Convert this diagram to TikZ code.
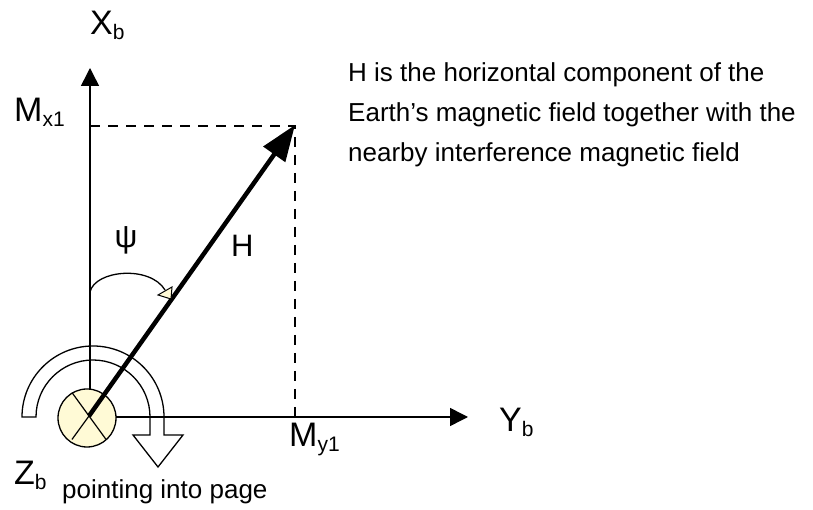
\documentclass[tikz,border=0pt]{standalone}
\usepackage{fontspec}
\setmainfont{Liberation Sans}
\usetikzlibrary{arrows.meta}
\definecolor{paleyellow}{HTML}{FFFAD6}
\newcommand\mysub[1]{\raisebox{-5pt}{\fontsize{21}{21}\selectfont #1}}
\begin{document}
\begin{tikzpicture}[x=1pt,y=1pt,
  axis/.style={line width=1.5pt,-{Triangle[length=18pt,width=18pt]}},
  guide/.style={line width=1.3pt,dash pattern=on 10pt off 8pt},
  thin/.style={line width=1.3pt},
  harrow/.style={line width=4.5pt,-{Triangle[length=36pt,width=26pt]}},
  lbl/.style={inner sep=0pt,anchor=base west,font=\fontsize{34}{34}\selectfont},
  desc/.style={inner sep=0pt,anchor=base west,font=\fontsize{26}{26}\selectfont},
]
\useasboundingbox (0,0) rectangle (813,510);
% named points
\coordinate (O) at (89,94);
\coordinate (Ox) at (90,94);
\coordinate (Xtip) at (90,442);
\coordinate (Ytip) at (468,93);
\coordinate (Oy) at (89,93);
\coordinate (Mx) at (90,384);
\coordinate (Htip) at (295,385);
\coordinate (My) at (295,93);
% big curved (rotation) arrow
\draw[thin,fill=white] (22,93) arc[start angle=180,end angle=0,radius=71]
  -- (164,75) -- (183,75) -- (158,43) -- (133,75) -- (150,75) -- (150,93)
  arc[start angle=0,end angle=180,radius=57] -- cycle;
% axes
\draw[axis] (Ox) -- (Xtip);
\draw[axis] (Oy) -- (Ytip);
% dashed projections
\draw[guide] (Mx) -- (Htip |- Mx) -- (My);
% Z axis circle
\node[circle,draw,fill=paleyellow,minimum size=58pt,inner sep=0pt,line width=1.3pt] (zc) at (87,92) {};
\draw[line width=1.2pt] ([shift={(126:29)}]O) -- ([shift={(-54:29)}]O);
\draw[line width=1.2pt] ([shift={(234:29)}]O) -- ([shift={(54:29)}]O);
% H vector
\draw[harrow] (O) -- (Htip);
% psi arc
\draw[thin] (90,218) .. controls (95,240) and (150,245) .. (165,220);
\filldraw[fill=paleyellow,line width=1pt] (158,215) -- (172,223) -- (171,211) -- cycle;
% labels
\node[lbl] (xb) at (90,475) {X\mysub{b}};
\node[lbl] (mx1) at (14,388) {M\mysub{x1}};
\node[lbl] (my1) at (289,63) {M\mysub{y1}};
\node[lbl] (yb) at (499,78) {Y\mysub{b}};
\node[lbl] (zb) at (14,25) {Z\mysub{b}};
\node[desc] (pip) at (62,11) {pointing into page};
\node[inner sep=0pt,font=\fontsize{32}{32}\selectfont] (psi) at (126,270) {ψ};
\node[inner sep=0pt,anchor=base west,font=\fontsize{31}{31}\selectfont] (hl) at (231,253) {H};
\node[desc] (d1) at (348,428) {H is the horizontal component of the};
\node[desc] (d2) at (348,388) {Earth’s magnetic field together with the};
\node[desc] (d3) at (348,348) {nearby interference magnetic field};
\end{tikzpicture}
\end{document}
